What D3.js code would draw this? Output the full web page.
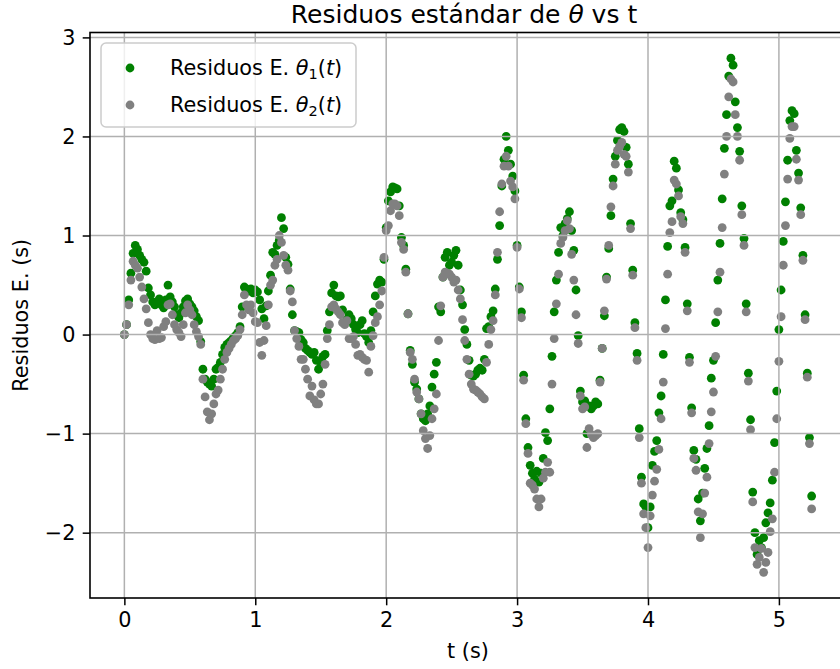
<!DOCTYPE html>
<html lang="es">
<head>
<meta charset="UTF-8">
<title>Residuos estándar de θ vs t</title>
<script src="https://d3js.org/d3.v7.min.js"></script>
<style>
  body { margin: 0; background: #fff; }
  svg { font-family: "DejaVu Sans", sans-serif; display: block; }
</style>
</head>
<body>
<svg id="chart"></svg>
<script>
// muestreo: 60 muestras por segundo, desde t = 0
const fps = 60;

// Residuos E. theta1(t)
const theta1 = [
  0.00, 0.10, 0.35, 0.62, 0.82, 0.90, 0.86, 0.80, 0.76, 0.73, 0.64, 0.47, 0.40,
  0.33, 0.30, 0.33, 0.36, 0.30, 0.27, 0.35, 0.50, 0.38, 0.33, 0.28, 0.20, 0.17, 0.22,
  0.28, 0.34, 0.36, 0.31, 0.28, 0.24, 0.18, 0.14, -0.07,
  -0.35, -0.45, -0.48, -0.50, -0.52, -0.45, -0.35, -0.33, -0.28, -0.20, -0.13, -0.10,
  -0.08, -0.06, -0.03, -0.01, 0.02, 0.08, 0.28, 0.48, 0.46, 0.44, 0.46, 0.42, 0.45,
  0.43, 0.35, 0.26, 0.16, 0.29, 0.44, 0.60, 0.83, 0.81, 0.90, 0.95, 1.18, 1.07, 0.78, 0.71,
  0.46, 0.20, 0.04, 0.03, 0.02, -0.05, -0.08, -0.14, -0.16, -0.18, -0.20, -0.18, -0.26, -0.35, -0.28,
  -0.22, -0.20, 0.04, 0.23, 0.42, 0.50, 0.39, 0.38, 0.39, 0.25, 0.12, 0.15, 0.20, 0.16, 0.10,
  0.05, 0.02, 0.10, 0.14, 0.01, -0.02, -0.08, 0.04, 0.23, 0.39, 0.51, 0.55, 0.53, 0.76, 1.08,
  1.35, 1.44, 1.49, 1.48, 1.47, 1.30, 0.98, 0.90, 0.66, 0.21, -0.16, -0.30, -0.48, -0.55, -0.65,
  -0.80, -0.85, -0.87, -0.80, -0.72, -0.53, -0.40, -0.28, 0.28, 0.23, 0.58, 0.78, 0.83, 0.70, 0.73,
  0.80, 0.85, 0.70, 0.45, 0.30, 0.05, -0.10, -0.26, -0.41, -0.42, -0.40, -0.36, -0.34, -0.36, -0.25,
  0.06, 0.08, 0.18, 0.24, 0.46, 0.76, 1.10, 1.50, 1.77, 2.00, 1.86, 1.72, 1.60, 1.45, 0.90,
  0.48, 0.23, -0.41, -0.85, -1.14, -1.32, -1.40, -1.46, -1.38, -1.49, -1.40, -1.25, -0.99, -1.07, -0.75,
  -0.22, 0.23, 0.55, 0.83, 1.08, 1.00, 1.12, 1.17, 1.24, 1.05, 0.85, 0.45, -0.01, -0.57, -0.68,
  -0.67, -1.00, -0.72, -0.75, -0.72, -0.68, -0.70, -0.46, -0.14, 0.19, 0.58, 0.87, 1.20, 1.57, 1.80,
  1.96, 2.07, 2.09, 2.05, 1.89, 1.72, 1.12, 0.65, 0.12, -0.19, -0.95, -1.44, -1.71, -1.74, -1.95,
  -1.74, -1.32, -1.18, -1.07, -0.79, -0.62, -0.20, 0.35, 0.89, 1.30, 1.35, 1.75, 1.68, 1.46, 1.23,
  1.16, 0.88, 0.31, -0.23, -0.74, -1.17, -1.26, -1.66, -1.88, -1.60, -1.35, -1.15, -0.92, -0.44, -0.26,
  0.12, 0.55, 0.92, 1.37, 1.88, 2.22, 2.61, 2.79, 2.72, 2.35, 2.09, 1.85, 1.30, 0.97, 0.31,
  -0.39, -0.86, -1.59, -2.00, -2.22, -2.08, -2.15, -2.05, -1.90, -1.80, -1.70, -1.47, -1.09, -0.57, 0.05,
  0.45, 0.94, 1.34, 1.76, 2.16, 2.26, 2.23, 1.86, 1.63, 1.28, 0.80, 0.20, -0.39, -1.04, -1.63
];

// Residuos E. theta2(t)
const theta2 = [
  0.00, 0.10, 0.30, 0.55, 0.74, 0.70, 0.67, 0.58, 0.48, 0.36, 0.26, 0.12, 0.00,
  -0.04, -0.05, 0.04, -0.04, -0.03, 0.08, 0.13, 0.30, 0.31, 0.20, 0.10, 0.05, 0.02, -0.02,
  0.10, 0.22, 0.30, 0.25, 0.20, 0.10, 0.03, -0.02, -0.10,
  -0.45, -0.63, -0.78, -0.86, -0.80, -0.70, -0.60, -0.56, -0.45, -0.35, -0.25, -0.18,
  -0.14, -0.10, -0.06, -0.04, -0.01, 0.05, 0.20, 0.40, 0.30, 0.25, 0.30, 0.22, 0.13,
  0.12, -0.08, -0.21, -0.06, 0.09, 0.30, 0.50, 0.55, 0.70, 0.76, 1.00, 0.93, 0.80, 0.70, 0.65,
  0.44, 0.33, 0.04, -0.04, -0.12, -0.25, -0.25, -0.35, -0.45, -0.62, -0.52, -0.66, -0.70, -0.70, -0.60,
  -0.50, -0.30, -0.04, 0.10, 0.28, 0.30, 0.26, 0.23, 0.20, 0.12, 0.10, 0.14, -0.04, -0.04, -0.02,
  -0.10, -0.21, -0.20, -0.23, -0.25, -0.26, -0.38, -0.12, -0.01, 0.12, 0.18, 0.30, 0.44, 0.78, 1.05,
  1.10, 1.25, 1.32, 1.32, 1.30, 1.20, 0.93, 0.86, 0.63, 0.21, -0.18, -0.25, -0.45, -0.58, -0.65,
  -0.80, -0.97, -1.05, -1.15, -1.02, -0.85, -0.75, -0.60, -0.06, 0.29, 0.58, 0.63, 0.62, 0.61, 0.58,
  0.53, 0.55, 0.45, 0.36, 0.15, -0.06, -0.25, -0.40, -0.50, -0.55, -0.56, -0.58, -0.60, -0.63, -0.65,
  -0.28, -0.10, 0.05, 0.14, 0.40, 0.83, 1.24, 1.52, 1.70, 1.80, 1.70, 1.55, 1.49, 1.37, 0.88,
  0.46, 0.17, -0.46, -0.90, -1.20, -1.50, -1.52, -1.56, -1.66, -1.74, -1.66, -1.45, -1.39, -1.29, -1.39,
  -0.50, -0.04, 0.31, 0.61, 0.92, 0.98, 1.05, 1.15, 1.07, 0.81, 0.55, 0.20, -0.09, -0.62, -0.75,
  -0.73, -1.14, -0.95, -1.01, -1.04, -1.02, -1.00, -0.48, -0.14, 0.24, 0.56, 0.90, 1.29, 1.50, 1.72,
  1.86, 1.90, 1.94, 1.82, 1.80, 1.64, 1.07, 0.60, 0.07, -0.26, -1.04, -1.50, -1.81, -1.95, -2.15,
  -1.83, -1.62, -1.48, -1.36, -1.16, -0.85, -0.48, 0.06, 0.61, 1.03, 1.14, 1.56, 1.52, 1.40, 1.19,
  1.12, 0.83, 0.24, -0.28, -0.79, -1.25, -1.37, -1.79, -2.05, -1.81, -1.60, -1.44, -1.10, -0.78, -0.58,
  -0.22, 0.23, 0.63, 1.08, 1.62, 2.00, 2.40, 2.58, 2.55, 2.22, 2.00, 1.76, 1.21, 0.90, 0.23,
  -0.47, -0.96, -1.69, -2.15, -2.32, -2.25, -2.16, -2.40, -2.30, -2.20, -1.99, -1.86, -1.39, -0.85, -0.27,
  0.18, 0.70, 1.10, 1.57, 1.98, 2.10, 2.10, 1.77, 1.56, 1.21, 0.75, 0.15, -0.43, -1.10, -1.76
];

const xTicks = [0, 1, 2, 3, 4, 5];
const yTicks = [-2, -1, 0, 1, 2, 3];

const width = 840, height = 669;
const mLeft = 90, mRight = 846, mTop = 32.5, mBottom = 598;
const fontSize = 20.8;

const svg = d3.select("#chart")
    .attr("width", width)
    .attr("height", height);

svg.append("rect").attr("width", width).attr("height", height).attr("fill", "#fff");

// limites como matplotlib: 5% de margen
const tMax = (theta1.length - 1) / fps;
const xPad = tMax * 0.05;
const allY = theta1.concat(theta2);
const yMin = d3.min(allY), yMax = d3.max(allY);
const yPad = (yMax - yMin) * 0.05;

const x = d3.scaleLinear().domain([-xPad, tMax + xPad]).range([mLeft, mRight]);
const y = d3.scaleLinear().domain([yMin - yPad, yMax + yPad]).range([mBottom, mTop]);

const pts1 = theta1.map((v, i) => ({ t: i / fps, v }));
const pts2 = theta2.map((v, i) => ({ t: i / fps, v }));

// puntos
svg.append("g")
  .selectAll("circle")
  .data(pts1)
  .join("circle")
    .attr("cx", d => x(d.t))
    .attr("cy", d => y(d.v))
    .attr("r", 4.4)
    .attr("fill", "green");

svg.append("g")
  .selectAll("circle")
  .data(pts2)
  .join("circle")
    .attr("cx", d => x(d.t))
    .attr("cy", d => y(d.v))
    .attr("r", 4.4)
    .attr("fill", "gray");

// rejilla
const grid = svg.append("g").attr("stroke", "#b0b0b0").attr("stroke-width", 1.5);
grid.selectAll(".gx").data(xTicks).join("line")
    .attr("x1", d => x(d)).attr("x2", d => x(d))
    .attr("y1", mTop).attr("y2", mBottom);
grid.selectAll(".gy").data(yTicks).join("line")
    .attr("x1", mLeft).attr("x2", mRight)
    .attr("y1", d => y(d)).attr("y2", d => y(d));

// ejes
const xAxis = svg.append("g")
    .attr("transform", `translate(0,${mBottom})`)
    .call(d3.axisBottom(x).tickValues(xTicks).tickFormat(d3.format("d"))
      .tickSizeOuter(0).tickSize(7.3).tickPadding(7));
const yAxis = svg.append("g")
    .attr("transform", `translate(${mLeft},0)`)
    .call(d3.axisLeft(y).tickValues(yTicks).tickFormat(d3.format("d"))
      .tickSizeOuter(0).tickSize(7.3).tickPadding(7.3));

[xAxis, yAxis].forEach(g => {
  g.select(".domain").remove();
  g.selectAll(".tick line").attr("stroke", "#000").attr("stroke-width", 1.5);
  g.selectAll(".tick text")
    .attr("fill", "#000")
    .style("font-family", "DejaVu Sans")
    .style("font-size", fontSize + "px");
});

// marco
svg.append("rect")
    .attr("x", mLeft).attr("y", mTop)
    .attr("width", mRight - mLeft).attr("height", mBottom - mTop)
    .attr("fill", "none").attr("stroke", "#000").attr("stroke-width", 1.6);

// titulo y etiquetas
const title = svg.append("text")
    .attr("x", 464).attr("y", 23)
    .attr("text-anchor", "middle")
    .style("font-size", "25px");
title.append("tspan").text("Residuos estándar de ");
title.append("tspan").attr("font-style", "italic").text("θ");
title.append("tspan").text(" vs t");

svg.append("text")
    .attr("x", (mLeft + mRight) / 2).attr("y", 658)
    .attr("text-anchor", "middle")
    .style("font-size", fontSize + "px")
    .text("t (s)");

svg.append("text")
    .attr("transform", `translate(28,${(mTop + mBottom) / 2}) rotate(-90)`)
    .attr("text-anchor", "middle")
    .style("font-size", fontSize + "px")
    .text("Residuos E. (s)");

// leyenda
const legendItems = [
  { sub: "1", color: "green" },
  { sub: "2", color: "gray" }
];
const legend = svg.append("g");
legend.append("rect")
    .attr("x", 101).attr("y", 43)
    .attr("width", 255).attr("height", 84)
    .attr("rx", 5)
    .attr("fill", "#fff").attr("fill-opacity", 0.8)
    .attr("stroke", "#cccccc").attr("stroke-width", 1.5);

legendItems.forEach((it, i) => {
  const cy = 68 + i * 37;
  legend.append("circle")
      .attr("cx", 130).attr("cy", cy).attr("r", 4.4)
      .attr("fill", it.color);
  const t = legend.append("text")
      .attr("x", 170).attr("y", cy + 7)
      .style("font-size", fontSize + "px");
  t.append("tspan").text("Residuos E. ");
  t.append("tspan").attr("font-style", "italic").text("θ");
  t.append("tspan").attr("dy", 4).style("font-size", "14.5px").text(it.sub);
  t.append("tspan").attr("dy", -4).text("(");
  t.append("tspan").attr("font-style", "italic").text("t");
  t.append("tspan").text(")");
});
</script>
</body>
</html>
